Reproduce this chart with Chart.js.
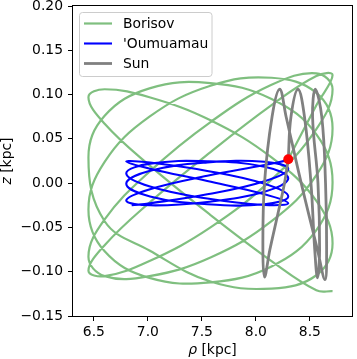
<!DOCTYPE html>
<html>
<head>
<meta charset="utf-8">
<script src="https://cdn.jsdelivr.net/npm/chart.js@4.4.0/dist/chart.umd.min.js"></script>
<style>
  html, body { margin: 0; padding: 0; background: #fff; }
  #wrap { width: 357px; height: 359px; position: relative; }
</style>
</head>
<body>
<div id="wrap"><canvas id="orbits"></canvas></div>
<script>
// --- orbit tracks (rho in kpc, z in kpc) ---
const borisovRho = [8.30, 8.56, 8.71, 8.56, 8.145, 7.58, 7.015, 6.60, 6.45, 6.60, 7.015, 7.58, 8.145,
  8.56, 8.71, 8.56, 8.145, 7.58, 7.015, 6.60, 6.45, 6.60, 7.015, 7.58, 8.145,
  8.56, 8.71, 8.56, 8.145, 7.58, 7.015, 6.60, 6.45, 6.60, 7.015, 7.58, 8.145,
  8.56, 8.71, 8.56, 8.145, 7.58, 7.015, 6.60, 6.45, 6.60, 7.015, 7.58, 8.145,
  8.56, 8.71, 8.56, 8.145, 7.58, 7.015, 6.60, 6.45, 6.60, 7.015, 7.58, 8.145, 8.56, 8.71];
const borisovZ = [0.027, 0.088, 0.122, 0.121, 0.088, 0.035, -0.022, -0.070, -0.099, -0.105, -0.088, -0.050, 0.004,
  0.061, 0.106, 0.124, 0.111, 0.069, 0.013, -0.041, -0.083, -0.105, -0.105, -0.084, -0.043,
  0.009, 0.062, 0.102, 0.119, 0.110, 0.075, 0.024, -0.030, -0.077, -0.107, -0.112, -0.094,
  -0.053, 0.001, 0.055, 0.095, 0.113, 0.107, 0.076, 0.029, -0.043, -0.076, -0.111, -0.119,
  -0.104, -0.068, -0.020, 0.029, 0.071, 0.097, 0.106, 0.097, 0.067, 0.020, -0.036, -0.088, -0.121, -0.122];

const oumuamuaRho = [8.30, 8.08, 7.55, 7.02, 6.80, 7.02, 7.55, 8.08,
  8.30, 8.08, 7.55, 7.02, 6.80, 7.02, 7.55, 8.08,
  8.30, 8.08, 7.55, 7.02, 6.80, 7.02, 7.55, 8.08,
  8.30, 8.08, 7.55, 7.02, 6.80, 7.02, 7.55, 8.08,
  8.30, 8.08, 7.55, 7.02, 6.85];
const oumuamuaZ = [0.026, 0.0204, 0.0083, -0.0068, -0.0195, -0.0250, -0.0212, -0.0097,
  0.0054, 0.0185, 0.0248, 0.0220, 0.0111, -0.0039, -0.0174, -0.0246,
  -0.0227, -0.0125, 0.0024, 0.0163, 0.0243, 0.0233, 0.0138, -0.0008,
  -0.0151, -0.0238, -0.0238, -0.0150, -0.0007, 0.0139, 0.0233, 0.0242,
  0.0162, 0.0022, -0.0126, -0.0228, -0.0250];

const sunRho = [8.30, 8.325, 8.39, 8.45, 8.51, 8.545, 8.57, 8.59, 8.575, 8.525, 8.55, 8.61, 8.645, 8.655, 8.64,
  8.57, 8.42, 8.28, 8.22, 8.15, 8.08, 8.065, 8.08, 8.13, 8.205, 8.265, 8.30];
const sunZ = [0.027, 0.075, 0.106, 0.075, 0.0, -0.075, -0.107, -0.075, 0.0, 0.075, 0.106, 0.075, 0.0, -0.075, -0.109,
  -0.075, 0.0, 0.075, 0.106, 0.075, 0.0, -0.075, -0.106, -0.075, -0.034, 0.0, 0.027];

const nowRho = [8.30];
const nowZ = [0.027];

const seriesNames = ['Borisov', "'Oumuamau", 'Sun'];
const xTicks = [6.5, 7.0, 7.5, 8.0, 8.5];
const yTicks = [-0.15, -0.10, -0.05, 0.00, 0.05, 0.10, 0.15, 0.20];

// --- styling ---
const FONT = '"DejaVu Sans", sans-serif';
const FONT_SIZE = 13.9;
const colors = ['rgba(0, 128, 0, 0.5)', '#0000ff', '#808080'];
const widths = [2.2, 2.1, 2.8];

function toPoints(xs, ys) {
    return xs.map((x, i) => ({ x: x, y: ys[i] }));
}

function orbitDataset(i, xs, ys, order) {
    return {
        label: seriesNames[i],
        data: toPoints(xs, ys),
        showLine: true,
        borderColor: colors[i],
        borderWidth: widths[i],
        pointRadius: 0,
        tension: 0.4,
        fill: false,
        order: order
    };
}

function minusSign(s) {
    return s.replace('-', '\u2212');
}

// frame, legend and axis titles drawn like the original figure
const overlay = {
    id: 'overlay',
    afterDraw(chart) {
        const { ctx, chartArea: a } = chart;
        ctx.save();

        ctx.strokeStyle = '#000';
        ctx.lineWidth = 1;
        ctx.strokeRect(a.left - 0.5, a.top - 0.5, a.right - a.left + 1, a.bottom - a.top + 1);

        // legend box
        const lx = 79.5, ly = 12.5, lw = 132.5, lh = 64, r = 3;
        ctx.beginPath();
        ctx.moveTo(lx + r, ly);
        ctx.arcTo(lx + lw, ly, lx + lw, ly + lh, r);
        ctx.arcTo(lx + lw, ly + lh, lx, ly + lh, r);
        ctx.arcTo(lx, ly + lh, lx, ly, r);
        ctx.arcTo(lx, ly, lx + lw, ly, r);
        ctx.closePath();
        ctx.fillStyle = 'rgba(255, 255, 255, 0.8)';
        ctx.fill();
        ctx.strokeStyle = '#cccccc';
        ctx.lineWidth = 1;
        ctx.stroke();

        ctx.font = FONT_SIZE + 'px ' + FONT;
        ctx.textBaseline = 'middle';
        ctx.textAlign = 'left';
        seriesNames.forEach((name, i) => {
            const y = 23.5 + i * 20;
            ctx.strokeStyle = colors[i];
            ctx.lineWidth = widths[i];
            ctx.beginPath();
            ctx.moveTo(84, y);
            ctx.lineTo(112, y);
            ctx.stroke();
            ctx.fillStyle = '#000';
            ctx.fillText(name, 123, y + 1);
        });

        // axis titles: italic symbol + unit
        const italic = 'italic ' + FONT_SIZE + 'px ' + FONT;
        const normal = FONT_SIZE + 'px ' + FONT;
        ctx.textBaseline = 'alphabetic';
        ctx.fillStyle = '#000';

        ctx.font = italic;
        const wRho = ctx.measureText('\u03c1').width;
        ctx.font = normal;
        const wUnit = ctx.measureText(' [kpc]').width;
        let x0 = (a.left + a.right) / 2 - (wRho + wUnit) / 2;
        ctx.font = italic;
        ctx.fillText('\u03c1', x0, 354);
        ctx.font = normal;
        ctx.fillText(' [kpc]', x0 + wRho, 354);

        ctx.translate(10.5, (a.top + a.bottom) / 2);
        ctx.rotate(-Math.PI / 2);
        ctx.font = italic;
        const wZ = ctx.measureText('z').width;
        x0 = -(wZ + wUnit) / 2;
        ctx.fillText('z', x0, 0);
        ctx.font = normal;
        ctx.fillText(' [kpc]', x0 + wZ, 0);

        ctx.restore();
    }
};

const tickFont = { family: FONT, size: FONT_SIZE };
const tickGrid = { display: true, drawOnChartArea: false, drawTicks: true, tickLength: 5, tickWidth: 1, tickColor: '#000' };

new Chart(document.getElementById('orbits').getContext('2d'), {
    type: 'scatter',
    data: {
        datasets: [
            { label: 'now', data: toPoints(nowRho, nowZ), pointRadius: 5, pointBackgroundColor: '#ff0000', pointBorderColor: '#ff0000', pointBorderWidth: 0, showLine: false, order: 0 },
            orbitDataset(2, sunRho, sunZ, 1),
            orbitDataset(1, oumuamuaRho, oumuamuaZ, 2),
            orbitDataset(0, borisovRho, borisovZ, 3)
        ]
    },
    options: {
        responsive: true,
        maintainAspectRatio: false,
        animation: false,
        devicePixelRatio: 1,
        events: [],
        layout: { padding: { top: 6, right: 2.5, left: 0, bottom: 0 } },
        plugins: { legend: { display: false }, tooltip: { enabled: false } },
        scales: {
            x: {
                type: 'linear', min: 6.307, max: 8.89,
                afterBuildTicks: (s) => { s.ticks = xTicks.map(v => ({ value: v })); },
                afterFit: (s) => { s.height = 43; s.paddingLeft = 0; s.paddingRight = 0; },
                ticks: { callback: (v) => v.toFixed(1), font: tickFont, color: '#000', padding: 3, maxRotation: 0, autoSkip: false },
                grid: tickGrid,
                border: { display: false }
            },
            y: {
                type: 'linear', min: -0.15, max: 0.20,
                afterBuildTicks: (s) => { s.ticks = yTicks.map(v => ({ value: v })); },
                afterFit: (s) => { s.width = 73; s.paddingTop = 0; s.paddingBottom = 0; },
                ticks: { callback: (v) => minusSign(v.toFixed(2)), font: tickFont, color: '#000', padding: 5, autoSkip: false },
                grid: tickGrid,
                border: { display: false }
            }
        }
    },
    plugins: [overlay]
});
</script>
</body>
</html>
